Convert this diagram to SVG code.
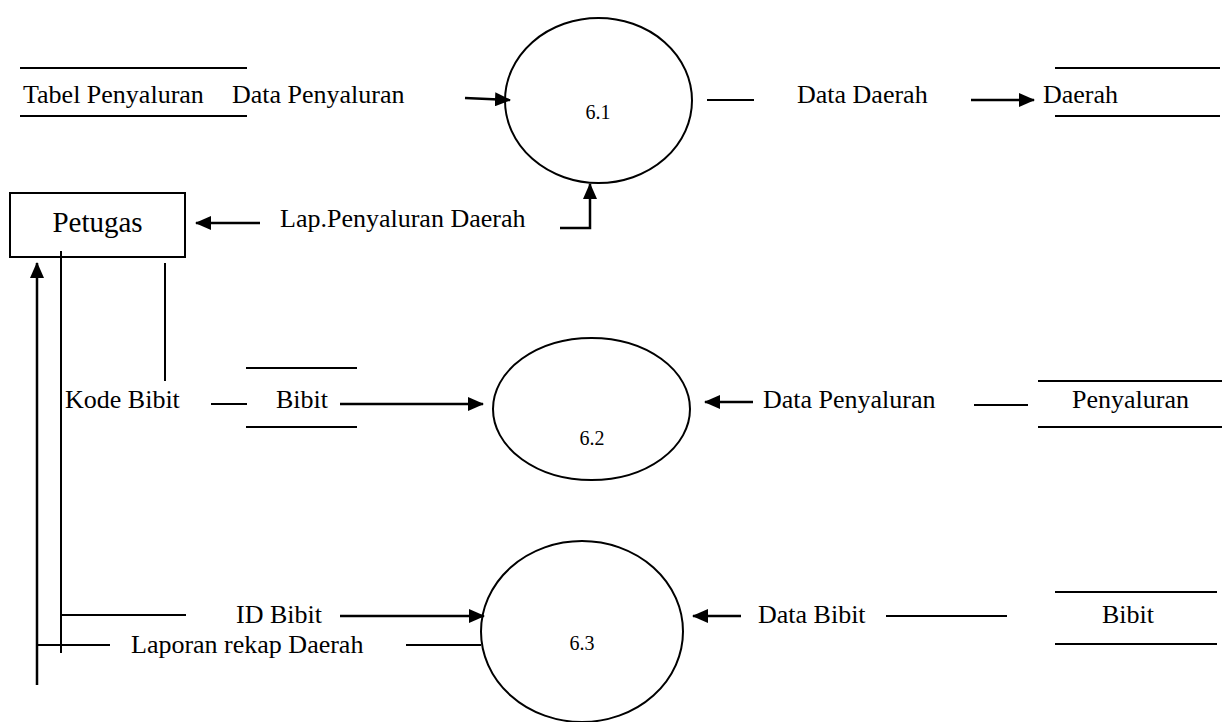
<svg xmlns="http://www.w3.org/2000/svg" width="1227" height="722" viewBox="0 0 1227 722">
<style>
  text { font-family: "Liberation Serif", "Times New Roman", serif; fill: #000; }
  .lbl { font-size: 26px; }
  .num { font-size: 20px; text-anchor: middle; }
  .ent { font-size: 29px; text-anchor: middle; }
  .ln { stroke: #000; stroke-width: 2; fill: none; }
  .ar { stroke: #000; stroke-width: 2.5; fill: none; }
  .proc { stroke: #000; stroke-width: 2; fill: #fff; }
</style>
<defs>
  <marker id="arr" viewBox="0 0 16 14" refX="15" refY="7" markerWidth="16" markerHeight="14" markerUnits="userSpaceOnUse" orient="auto">
    <path d="M0,0 L16,7 L0,14 Z" fill="#000"/>
  </marker>
</defs>
<rect width="1227" height="722" fill="#fff"/>

<g id="store-tabel-penyaluran">
  <line class="ln" x1="20" y1="68" x2="247" y2="68"/>
  <line class="ln" x1="20" y1="116" x2="247" y2="116"/>
  <text class="lbl" x="23" y="103">Tabel Penyaluran</text>
</g>
<g id="process-6-1">
  <ellipse class="proc" cx="598.5" cy="100.5" rx="93.5" ry="82.5"/>
  <text class="num" x="598" y="119">6.1</text>
</g>
<g id="store-daerah">
  <line class="ln" x1="1055" y1="68" x2="1220" y2="68"/>
  <line class="ln" x1="1055" y1="116" x2="1220" y2="116"/>
  <text class="lbl" x="1043" y="103">Daerah</text>
</g>
<g id="petugas">
  <rect x="10" y="193" width="175" height="64" fill="#fff" stroke="#000" stroke-width="2"/>
  <text class="ent" x="97.5" y="232">Petugas</text>
</g>
<g id="store-bibit-1">
  <line class="ln" x1="246" y1="368" x2="357" y2="368"/>
  <line class="ln" x1="246" y1="427" x2="357" y2="427"/>
  <text class="lbl" x="276" y="408">Bibit</text>
</g>
<g id="process-6-2">
  <ellipse class="proc" cx="591.5" cy="409" rx="98.5" ry="71"/>
  <text class="num" x="592" y="445">6.2</text>
</g>
<g id="store-penyaluran">
  <line class="ln" x1="1038" y1="381" x2="1222" y2="381"/>
  <line class="ln" x1="1038" y1="427" x2="1222" y2="427"/>
  <text class="lbl" x="1072" y="408">Penyaluran</text>
</g>
<g id="process-6-3">
  <ellipse class="proc" cx="582" cy="631.5" rx="101" ry="90.5"/>
  <text class="num" x="582" y="650">6.3</text>
</g>
<g id="store-bibit-2">
  <line class="ln" x1="1055" y1="592" x2="1217" y2="592"/>
  <line class="ln" x1="1055" y1="644" x2="1217" y2="644"/>
  <text class="lbl" x="1102" y="623">Bibit</text>
</g>

<g id="connectors">
  <line class="ar" x1="465" y1="98" x2="510" y2="100" marker-end="url(#arr)"/>
  <line class="ln" x1="707" y1="100" x2="754" y2="100"/>
  <line class="ar" x1="971" y1="100" x2="1034" y2="100" marker-end="url(#arr)"/>
  <polyline class="ar" points="560,228 590,228 590,184" marker-end="url(#arr)"/>
  <line class="ar" x1="260" y1="223" x2="196" y2="223" marker-end="url(#arr)"/>
  <line class="ln" x1="61" y1="251" x2="61" y2="653"/>
  <line class="ln" x1="61" y1="615" x2="186" y2="615"/>
  <line class="ln" x1="165" y1="263" x2="165" y2="381"/>
  <line class="ar" x1="37" y1="685" x2="37" y2="263" marker-end="url(#arr)"/>
  <line class="ln" x1="37" y1="645" x2="110" y2="645"/>
  <line class="ln" x1="211" y1="404" x2="247" y2="404"/>
  <line class="ar" x1="340" y1="404" x2="483" y2="404" marker-end="url(#arr)"/>
  <line class="ar" x1="753" y1="402" x2="705" y2="402" marker-end="url(#arr)"/>
  <line class="ln" x1="974" y1="405" x2="1028" y2="405"/>
  <line class="ar" x1="340" y1="616" x2="484" y2="616" marker-end="url(#arr)"/>
  <line class="ln" x1="406" y1="645" x2="481" y2="645"/>
  <line class="ar" x1="741" y1="616" x2="693" y2="616" marker-end="url(#arr)"/>
  <line class="ln" x1="886" y1="616" x2="1007" y2="616"/>
  <text class="lbl" x="232" y="103">Data Penyaluran</text>
  <text class="lbl" x="797" y="103">Data Daerah</text>
  <text class="lbl" x="280" y="227">Lap.Penyaluran Daerah</text>
  <text class="lbl" x="65" y="408">Kode Bibit</text>
  <text class="lbl" x="763" y="408">Data Penyaluran</text>
  <text class="lbl" x="236" y="623">ID Bibit</text>
  <text class="lbl" x="131" y="653">Laporan rekap Daerah</text>
  <text class="lbl" x="758" y="623">Data Bibit</text>
</g>
</svg>
